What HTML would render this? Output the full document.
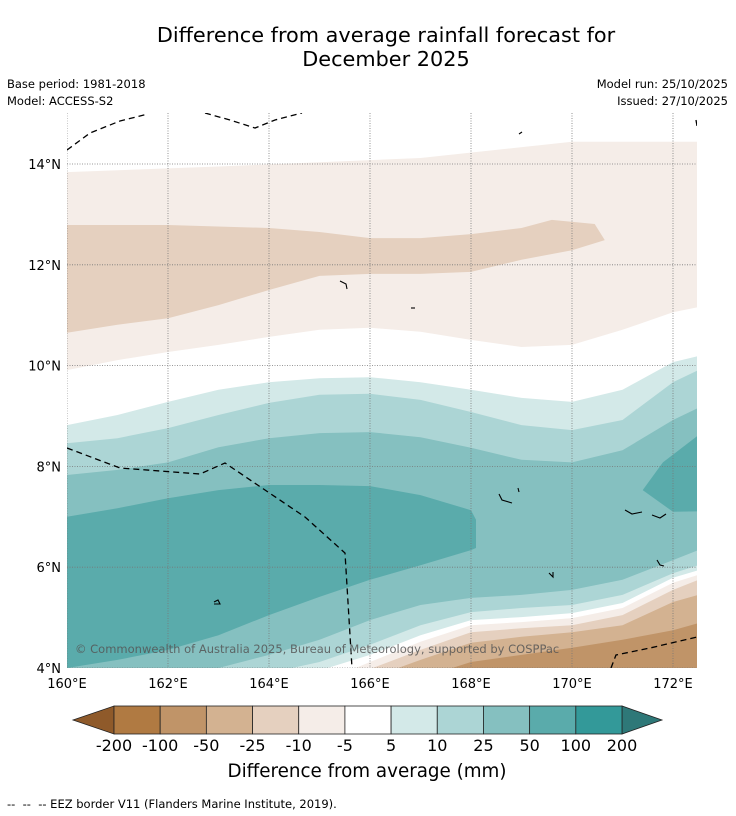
<!DOCTYPE html>
<html><head><meta charset="utf-8">
<style>
body{margin:0;background:#fff;font-family:"DejaVu Sans","Liberation Sans",sans-serif;}
#wrap{position:relative;width:736px;height:816px;overflow:hidden;}
.t{position:absolute;white-space:nowrap;color:#000;}
</style></head><body>
<div id="wrap">
<div class="t" style="left:0;width:772px;top:23px;text-align:center;font-size:20.8px;line-height:24px;">Difference from average rainfall forecast for<br>December 2025</div>
<div class="t" style="left:7px;top:77px;font-size:11.5px;">Base period: 1981-2018</div>
<div class="t" style="left:7px;top:94px;font-size:11.5px;">Model: ACCESS-S2</div>
<div class="t" style="right:8px;top:77px;font-size:11.5px;">Model run: 25/10/2025</div>
<div class="t" style="right:8px;top:94px;font-size:11.5px;">Issued: 27/10/2025</div>
<svg id="map" width="736" height="816" style="position:absolute;left:0;top:0" xmlns="http://www.w3.org/2000/svg"></svg>
<div class="t" style="left:0;width:734px;text-align:center;top:761px;font-size:18.3px;">Difference from average (mm)</div>
<div class="t" style="left:7px;top:797px;font-size:11.5px;">--&nbsp; --&nbsp; -- EEZ border V11 (Flanders Marine Institute, 2019).</div>
</div>
<script>
const lons=[160,161,162,163,164,165,166,167,168,169,170,171,172,172.5];
const up5=[8.82,9.02,9.28,9.52,9.67,9.75,9.77,9.67,9.52,9.36,9.28,9.52,10.07,10.19];
const up10=[8.46,8.56,8.76,9.02,9.26,9.42,9.44,9.32,9.08,8.82,8.72,8.92,9.67,9.91];
const up25=[7.83,7.93,8.08,8.38,8.56,8.66,8.68,8.58,8.37,8.13,8.08,8.32,8.92,9.16];
const low25=[3.5,3.5,3.5,4.0,4.26,4.56,4.95,5.25,5.39,5.45,5.55,5.75,6.14,6.34];
const low10=[3.5,3.5,3.5,3.5,3.9,4.12,4.46,4.85,5.11,5.19,5.25,5.45,5.88,6.04];
const low5=[3.5,3.5,3.5,3.5,3.5,3.95,4.26,4.65,4.95,5.01,5.09,5.29,5.79,5.94];
const lowWhite=[3.5,3.5,3.5,3.5,3.5,3.7,4.12,4.52,4.85,4.91,4.99,5.19,5.69,5.85];
const lowM5=[3.5,3.5,3.5,3.5,3.5,3.5,3.98,4.36,4.71,4.79,4.85,5.05,5.55,5.75];
const lowM10=[3.5,3.5,3.5,3.5,3.5,3.5,3.8,4.16,4.5,4.62,4.71,4.85,5.31,5.45];
const lowM25=[3.5,3.5,3.5,3.5,3.5,3.5,3.5,3.8,4.12,4.26,4.40,4.56,4.75,4.89];
const topM5Lons=[160,163,167,170,172.5];
const topM5Upper=[13.84,13.95,14.12,14.44,14.44];
const topM5Lower=[9.91,10.11,10.27,10.41,10.57,10.71,10.75,10.67,10.51,10.37,10.41,10.71,11.06,11.16];
const m10UpLons=[160,162,164,165,166,167,168,169,169.6,170.45,170.65];
const m10Upper=[12.79,12.79,12.73,12.65,12.53,12.53,12.61,12.73,12.89,12.81,12.49];
const m10LowLons=[160,161,162,163,164,165,166,167,168,169,170,170.65];
const m10Lower=[10.65,10.81,10.94,11.20,11.50,11.78,11.82,11.82,11.86,12.10,12.29,12.49];
const w50UpLons=[160,161,162,163,164,165,166,167,168,168.1];
const w50Upper=[7.0,7.17,7.37,7.53,7.63,7.63,7.61,7.43,7.13,6.94];
const w50LowLons=[160,161,162,163,164,165,166,167,168,168.1];
const w50Lower=[4.0,4.16,4.36,4.65,5.05,5.41,5.75,6.04,6.34,6.38];
const e50Lons=[172.5,171.8,171.4,172,172.5];
const e50Lats=[8.62,8.08,7.53,7.10,7.11];
const lonTicks=[160,162,164,166,168,170,172];
const latTicks=[4,6,8,10,12,14];
const cbLabels=['-200','-100','-50','-25','-10','-5','5','10','25','50','100','200'];
const cbColors=['#b07a42','#c09468','#d3b291','#e5d0bf','#f5ede8','#ffffff','#d3e9e8','#acd5d5','#85c0c0','#5aabab','#339999'];

const FONT='DejaVu Sans, Liberation Sans, sans-serif';
const X0=67,X1=697,Y0=113,Y1=668;
const xs=l=>67+(l-160)*50.5;
const ys=a=>668-(a-4)*50.4;
const svg=document.getElementById('map');
const NS='http://www.w3.org/2000/svg';
function mk(tag,attrs,parent){const e=document.createElementNS(NS,tag);for(const k in attrs)e.setAttribute(k,attrs[k]);(parent||svg).appendChild(e);return e;}
const defs=mk('defs',{});
const cp=mk('clipPath',{id:'clip'},defs);mk('rect',{x:X0,y:Y0,width:X1-X0,height:Y1-Y0},cp);
const g=mk('g',{'clip-path':'url(#clip)'});
function pts(lo,la){return lo.map((l,i)=>xs(l).toFixed(1)+','+ys(la[i]).toFixed(1));}
function regionDown(arr,color,name){
  const p=pts(lons,arr);p.push(xs(172.5)+','+(Y1+5),xs(160)+','+(Y1+5));
  const e=mk('polygon',{points:p.join(' '),fill:color},g);
  
  
}
function poly(lo,la,color,name){
  const e=mk('polygon',{points:pts(lo,la).join(' '),fill:color},g);
  
  
}
mk('rect',{x:X0,y:Y0,width:X1-X0,height:Y1-Y0,fill:'#fff'},g);
regionDown(up5,'#d3e9e8','band-5-10');
regionDown(up10,'#acd5d5','band-10-25');
regionDown(up25,'#85c0c0','band-25-50');
regionDown(low25,'#acd5d5','band-10-25-south');
regionDown(low10,'#d3e9e8','band-5-10-south');
regionDown(low5,'#ffffff','band-neutral-south');
regionDown(lowWhite,'#f5ede8','band-m5-south');
regionDown(lowM5,'#e5d0bf','band-m10-south');
regionDown(lowM10,'#d3b291','band-m25-south');
regionDown(lowM25,'#c09468','band-m50-south');
poly(w50UpLons.concat(w50LowLons.slice().reverse()),w50Upper.concat(w50Lower.slice().reverse()),'#5aabab','band-50-100-west');
poly(e50Lons,e50Lats,'#5aabab','band-50-100-east');
(function(){
  const p=[];
  p.push(...pts(topM5Lons,topM5Upper));
  p.push(...pts(lons.slice().reverse(),topM5Lower.slice().reverse()));
  const e=mk('polygon',{points:p.join(' '),fill:'#f5ede8'},g);
  
  
})();
poly(m10UpLons.concat(m10LowLons.slice().reverse()),m10Upper.concat(m10Lower.slice().reverse()),'#e5d0bf','band-m10-north');
lonTicks.forEach(l=>{const e=mk('line',{x1:xs(l),x2:xs(l),y1:Y0,y2:Y1,stroke:'#777','stroke-width':0.8,'stroke-dasharray':'1,1.5'},g);

});
latTicks.forEach(a=>{const e=mk('line',{x1:X0,x2:X1,y1:ys(a),y2:ys(a),stroke:'#777','stroke-width':0.8,'stroke-dasharray':'1,1.5'},g);

});
[['M67,150 L90,133 L120,121 L148,114','eez-north-west'],['M205,113 L230,120 L255,128 L275,120 L302,113','eez-north'],
 ['M67,448 L120,468 L200,474 L225,463 L305,517 L345,553 L352,668','eez-west'],['M611,668 L616,655 L650,648 L697,637','eez-south-east'],
 ['M696,120 L697,126','eez-east']].forEach(d=>{
  const e=mk('path',{d:d[0],fill:'none',stroke:'#000','stroke-width':1.3,'stroke-dasharray':'6,4'},g);
  
  });
['M625,510 L632,514 L642,512','M652,515 L660,518 L666,514','M499,494 L502,500 L512,503','M518,488 L519,492','M549,573 L553,577 L553,572','M657,560 L660,565 L664,566','M214,602 L218,600 L220,604 L214,604','M519,134 L522,132','M340,281 L346,284 L347,289','M411,308 L415,308'].forEach(d=>{
  const e=mk('path',{d:d,fill:'none',stroke:'#000','stroke-width':1.1},g);
  
  });
const ct=mk('text',{x:75,y:653,'font-size':11.5,fill:'#555','fill-opacity':0.85,'font-family':FONT},g);
ct.textContent='© Commonwealth of Australia 2025, Bureau of Meteorology, supported by COSPPac';


lonTicks.forEach(l=>{const t=mk('text',{x:xs(l),y:688,'font-size':13,'text-anchor':'middle','font-family':FONT});t.textContent=l+'°E';

});
latTicks.forEach(a=>{const t=mk('text',{x:61,y:ys(a)+5,'font-size':13,'text-anchor':'end','font-family':FONT});t.textContent=a+'°N';

});
const cbX=114,cbW=(622-114)/cbColors.length,cbY=706,cbH=28;
const lt=mk('polygon',{points:`73,${cbY+cbH/2} ${cbX},${cbY} ${cbX},${cbY+cbH}`,fill:'#8f5a2a',stroke:'#222','stroke-width':0.8});


const rt=mk('polygon',{points:`662,${cbY+cbH/2} 622,${cbY} 622,${cbY+cbH}`,fill:'#2e7878',stroke:'#222','stroke-width':0.8});


cbColors.forEach((c,i)=>{const r=mk('rect',{x:cbX+i*cbW,y:cbY,width:cbW,height:cbH,fill:c,stroke:'#222','stroke-width':0.8});

});
cbLabels.forEach((s,i)=>{const t=mk('text',{x:cbX+i*cbW,y:751,'font-size':16,'text-anchor':'middle','font-family':FONT});t.textContent=s;

});
</script>
</body></html>
